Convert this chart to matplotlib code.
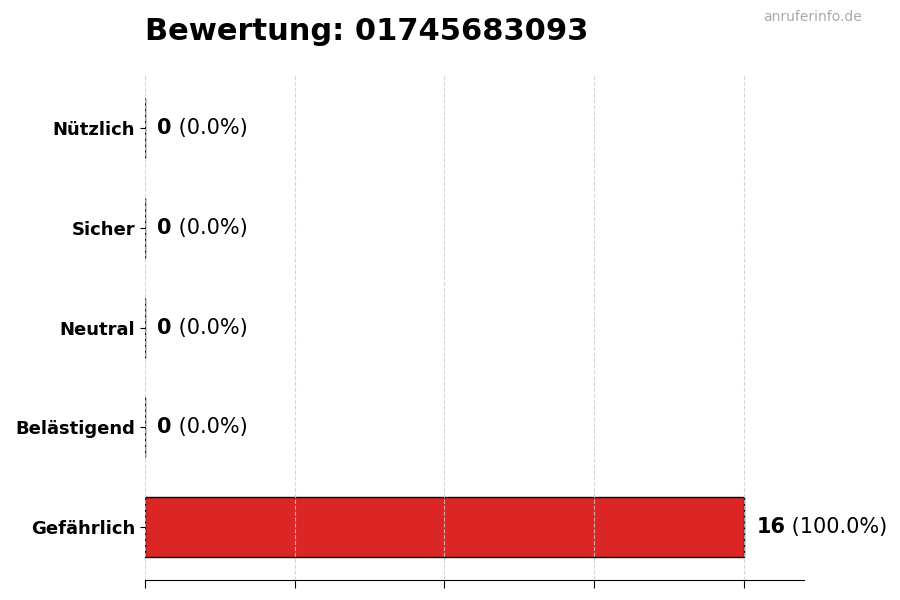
import matplotlib
matplotlib.use("Agg")

import matplotlib.pyplot as plt

# ratings, top to bottom as shown
categories = ["Nützlich", "Sicher", "Neutral", "Belästigend", "Gefährlich"]
counts = [0, 0, 0, 0, 16]
colors = ["#2e9e44", "#3b82f6", "#9ca3af", "#f59e0b", "#dc2626"]
title = "Bewertung: 01745683093"
watermark = "anruferinfo.de"

total = sum(counts)
# bottom-to-top order for barh
cats_plot = categories[::-1]
counts_plot = counts[::-1]
colors_plot = colors[::-1]

fig = plt.figure(figsize=(9, 6), dpi=100)
ax = fig.add_axes([0.161, 0.033, 0.732, 0.842])

bars = ax.barh(cats_plot, counts_plot, height=0.6, color=colors_plot,
               edgecolor="black", linewidth=1)

ax.set_xlim(0, max(counts) * 1.1)
ax.set_xticks(range(0, max(counts) + 1, 4))
ax.set_xticklabels([])
ax.tick_params(axis="x", length=6)
ax.tick_params(axis="y", labelsize=13)
for lbl in ax.get_yticklabels():
    lbl.set_fontweight("bold")

ax.grid(axis="x", linestyle="--", color="#cccccc", linewidth=0.8, alpha=0.8)
for side in ("top", "right", "left"):
    ax.spines[side].set_visible(False)

# value labels: bold count followed by normal percentage
for y, c in enumerate(counts_plot):
    pct = 100.0 * c / total if total else 0.0
    t = ax.annotate(str(c), xy=(c, y), xytext=(9, 0), textcoords="offset points",
                    va="center", ha="left", fontsize=15, fontweight="bold")
    ax.annotate(f" ({pct:.1f}%)", xy=(1, 0.5), xycoords=t,
                va="center", ha="left", fontsize=15)

fig.text(0.161, 0.947, title, fontsize=22, fontweight="bold", ha="left", va="center")
fig.text(0.958, 0.971, watermark, fontsize=10, color="#aaaaaa", ha="right", va="center")

fig.savefig("out.png", dpi=100)
